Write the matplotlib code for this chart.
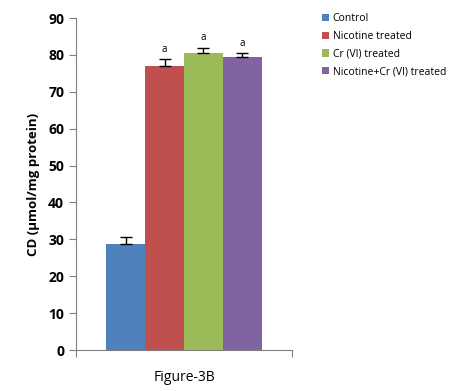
import matplotlib
matplotlib.use("Agg")
import matplotlib.pyplot as plt
import numpy as np

categories = ["Control", "Nicotine treated", "Cr (VI) treated", "Nicotine+Cr (VI) treated"]
values = [28.6, 77.0, 80.4, 79.3]
errors = [2.1, 1.8, 1.6, 1.2]
sig_labels = ["", "a", "a", "a"]
colors = ["#4F81BD", "#C0504D", "#9BBB59", "#8064A2"]
yticks = [0, 10, 20, 30, 40, 50, 60, 70, 80, 90]

plt.rcParams['font.family'] = ['Open Sans', 'DejaVu Sans']

fig = plt.figure(figsize=(4.66, 3.91), dpi=100)
ax = fig.add_axes([76/466, 1-350/391, 216/466, 332/391])

n = len(values)
bw = 0.72 / n
x = np.arange(n) * bw - 0.36 + bw/2
for i in range(n):
    ax.bar(x[i], values[i], width=bw, color=colors[i], label=categories[i],
           yerr=[[0], [errors[i]]], error_kw=dict(ecolor='black', elinewidth=1, capsize=4, capthick=1))
    if sig_labels[i]:
        ax.text(x[i], values[i] + errors[i] + 1.2, sig_labels[i], ha='center', va='bottom', fontsize=7)

ax.set_xlim(-0.5, 0.5)
ax.set_ylim(0, 90)
ax.set_yticks(yticks)
ax.set_yticklabels([str(t) for t in yticks], fontsize=10, fontweight='bold')
ax.set_xticks([-0.5, 0.5])
ax.set_xticklabels(["", ""])
ax.tick_params(axis='x', length=5, color='#808080', direction='out')
ax.tick_params(axis='y', length=5, color='#808080', direction='out')
for s in ['top', 'right']:
    ax.spines[s].set_visible(False)
for s in ['left', 'bottom']:
    ax.spines[s].set_color('#808080')
ax.set_ylabel("CD (µmol/mg protein)", fontsize=9.5, fontweight='bold', labelpad=6)
ax.set_xlabel("Figure-3B", fontsize=10, labelpad=6)

fig.legend(loc='upper left', bbox_to_anchor=(318/466, 1-9/391), fontsize=7.5, frameon=False,
           handlelength=0.7, handleheight=0.7, handletextpad=0.3, labelspacing=0.65, borderaxespad=0)

fig.savefig("out.png", dpi=100)
